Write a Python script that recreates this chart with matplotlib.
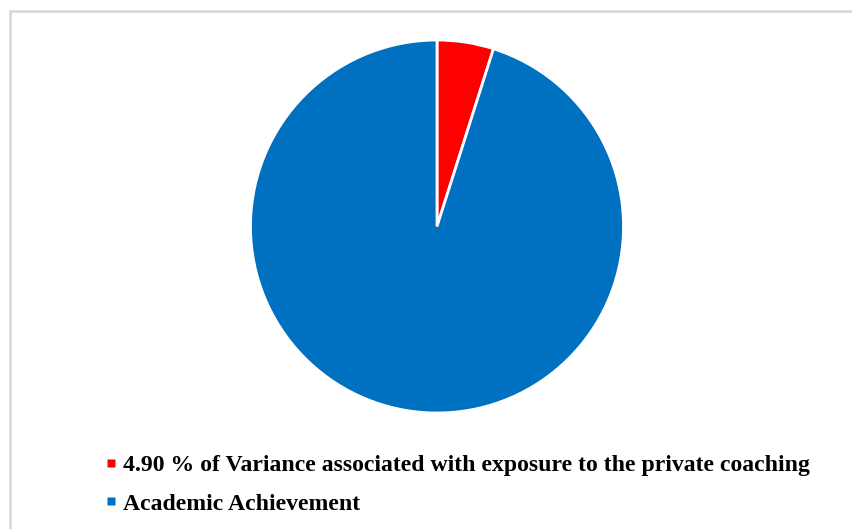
import matplotlib
matplotlib.use('Agg')
import matplotlib.pyplot as plt
from matplotlib.patches import Rectangle
from matplotlib.lines import Line2D

# data
labels = ['4.90 % of Variance associated with exposure to the private coaching',
          'Academic Achievement']
values = [4.90, 95.10]
colors = ['#FF0000', '#0070C0']

W, H = 853, 529
fig = plt.figure(figsize=(W / 100, H / 100), dpi=100)

# light frame around the chart area (only top/left visible in the crop)
fig.add_artist(Rectangle((9.5 / W, -0.1), 1.2, (H - 10.5) / H + 0.1,
                         transform=fig.transFigure, fill=False,
                         edgecolor='#d9d9d9', linewidth=2))

cx, cy, r = 437, H - 226.5, 186.5
ax = fig.add_axes([(cx - r) / W, (cy - r) / H, 2 * r / W, 2 * r / H])
ax.pie(values, colors=colors, startangle=90, counterclock=False, radius=1,
       wedgeprops=dict(edgecolor='white', linewidth=2))
ax.set_xlim(-1, 1)
ax.set_ylim(-1, 1)
ax.set_aspect('equal')
ax.axis('off')

handles = [Line2D([], [], linestyle='none', marker='s', markersize=6.3,
                  markerfacecolor=c, markeredgecolor='none') for c in colors]
fig.legend(handles, labels, loc='upper left',
           bbox_to_anchor=(96 / W, (H - 445) / H),
           frameon=False, handlelength=0.5, handletextpad=0.22,
           labelspacing=0.7, borderaxespad=0,
           prop=dict(family='Liberation Serif', weight='bold', size=17.15))

fig.savefig('out.png', dpi=100)
